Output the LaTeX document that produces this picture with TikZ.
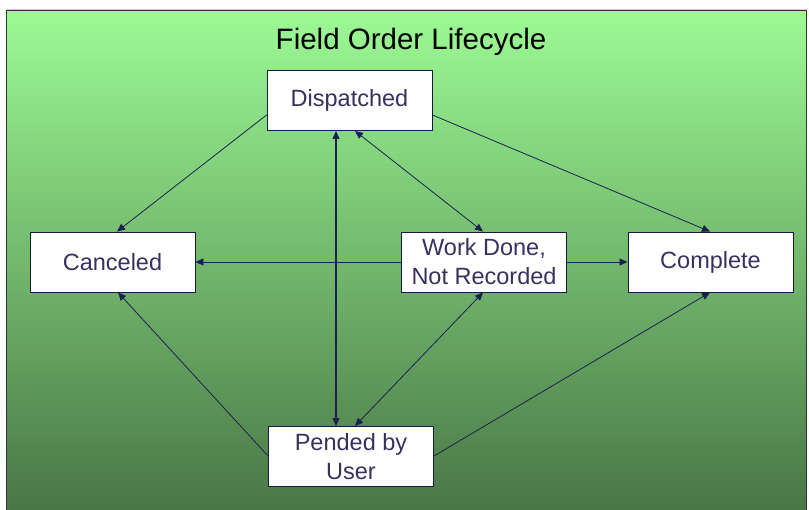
\documentclass[tikz,border=0pt]{standalone}
\usepackage{fontspec}
\setmainfont{Liberation Sans}
\usetikzlibrary{arrows.meta}
\definecolor{topg}{HTML}{9CFA94}
\definecolor{botg}{HTML}{497646}
\definecolor{edgec}{HTML}{1C2050}
\definecolor{txtc}{HTML}{3A3060}
\begin{document}
\begin{tikzpicture}[x=1pt,y=-1pt,
  state/.style={draw=edgec!80!black,line width=0.9pt,fill=white,minimum width=165pt,minimum height=60pt,inner sep=0pt,align=center,font=\fontsize{23.5}{29}\selectfont,text=txtc},
  conn/.style={draw=edgec,line width=0.8pt,-{Triangle[length=8pt,width=7pt]}},
  dconn/.style={draw=edgec,line width=0.8pt,{Triangle[length=8pt,width=7pt]}-{Triangle[length=8pt,width=7pt]}}]
\useasboundingbox (0,0) rectangle (809,510);
\fill[white] (0,0) rectangle (809,510);
\shade[top color=topg,bottom color=botg] (6,10) rectangle (806,512);
\draw[line width=0.8pt,black!80] (806,512) -- (806,10) -- (6,10) -- (6,512);
\node[font=\fontsize{29.5}{34}\selectfont,text=black] (title) at (411,42) {Field Order Lifecycle};
\node[state] (disp) at (349.5,100.5) {Dispatched};
\node[state] (canc) at (112.5,262) {Canceled};
\node[state] (work) at (484,262) {Work Done,\\Not Recorded};
\node[state] (comp) at (710.5,262) {Complete};
\node[state] (pend) at (351,456.5) {Pended by\\User};
\draw[conn] (disp.west |- 0,115) -- (canc.north -| 117,0);
\draw[conn] (disp.east |- 0,115) -- (comp.north -| 710,0);
\draw[dconn] (disp.south -| 355,0) -- (work.north -| 483,0);
\draw[dconn,line width=1.1pt] (pend.north -| 336,0) -- (disp.south -| 336,0);
\draw[dconn] (work.south -| 483,0) -- (pend.north -| 355,0);
\draw[conn] (work.west) -- (canc.east);
\draw[conn] (work.east) -- (comp.west);
\draw[conn] (pend.west |- 0,456) -- (canc.south -| 118,0);
\draw[conn] (pend.east |- 0,456) -- (comp.south -| 710,0);
\end{tikzpicture}
\end{document}
